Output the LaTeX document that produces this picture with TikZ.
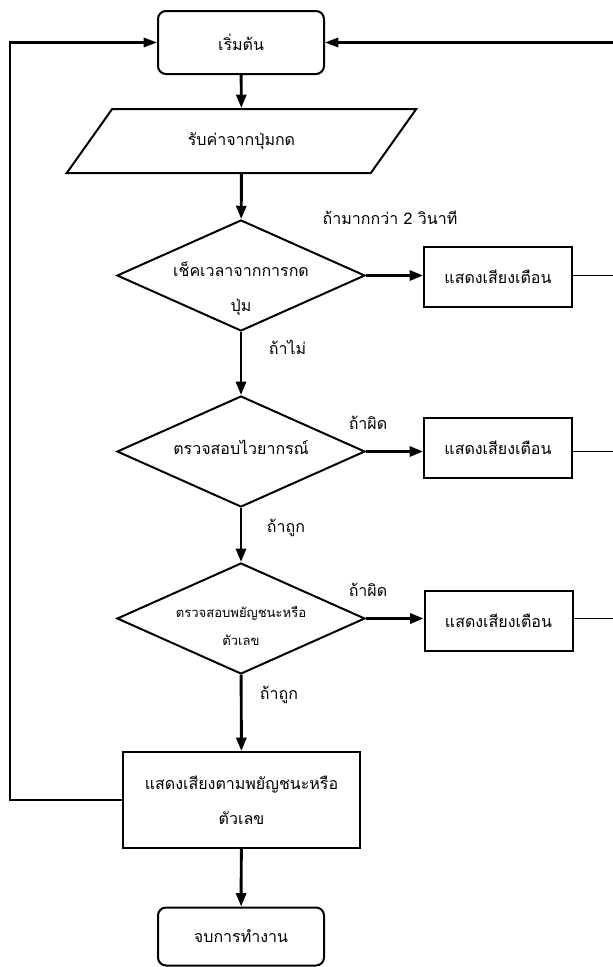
\documentclass[tikz,border=0pt]{standalone}
\usepackage{fontspec}
\newfontfamily\thaifont[Script=Thai]{Loma}
\usetikzlibrary{shapes.geometric,arrows.meta}

\tikzset{
  box/.style={draw, line width=1.5pt, minimum width=111pt, minimum height=45pt, inner sep=0pt, align=center},
  term/.style={box, rounded corners=6pt, minimum width=124.5pt, minimum height=47.25pt},
  inbox/.style={draw, line width=1.5pt, trapezium, trapezium left angle=42, trapezium right angle=138,
    trapezium stretches=true, minimum width=262.5pt, minimum height=48pt, inner sep=0pt},
  decision/.style={draw, line width=1.5pt, diamond, minimum width=186pt, minimum height=83.25pt, inner sep=0pt},
  flow/.style={line width=2.2pt, -{Triangle[length=10pt,width=7.5pt]}},
  goback/.style={line width=1.6pt},
  tie/.style={line width=1.2pt}
}

\begin{document}
\begin{tikzpicture}[x=0.75pt, y=-0.75pt, font={\thaifont\fontsize{12pt}{26pt}\selectfont}]
\useasboundingbox (0,0) rectangle (612,967);

% main column
\node[term] (start) at (241,42.5) {เริ่มต้น};
\node[inbox] (read) at (241.5,141) {รับค่าจากปุ่มกด};
\node[decision] (chk) at (241,275.5) {};
\node[align=center] (chktxt) at (241,289) {เช็คเวลาจากการกด\\ปุ่ม};
\node[decision] (gram) at (241,451.5) {};
\node (gramtxt) at (241,447) {ตรวจสอบไวยากรณ์};
\node[decision] (cons) at (241,618.5) {};
\node[align=center, font={\thaifont\fontsize{9.8pt}{21pt}\selectfont}] (constxt) at (241,626) {ตรวจสอบพยัญชนะหรือ\\ตัวเลข};
\node[box, minimum width=177.75pt, minimum height=72pt] (play) at (241.5,800) {แสดงเสียงตามพยัญชนะหรือ\\ตัวเลข};
\node[term, minimum height=43.5pt] (stop) at (241,936.5) {จบการทำงาน};

% warnings
\node[box] (warn1) at (498,277) {แสดงเสียงเตือน};
\node[box] (warn2) at (498,448) {แสดงเสียงเตือน};
\node[box] (warn3) at (498.5,621) {แสดงเสียงเตือน};

% conditions
\node[anchor=west] (ifmore) at (318,218) {ถ้ามากกว่า 2 วินาที};
\node (ifnot) at (287.5,347) {ถ้าไม่};
\node (ifwrong1) at (368,423) {ถ้าผิด};
\node (ifright1) at (286,528) {ถ้าถูก};
\node (ifwrong2) at (368,590) {ถ้าผิด};
\node (ifright2) at (279,695) {ถ้าถูก};

\draw[flow] (start) -- (read);
\draw[flow] (read) -- (chk);
\draw[flow] (chk) -- (gram);
\draw[flow] (gram) -- (cons);
\draw[flow] (cons) -- (play);
\draw[flow] (play) -- (stop);

\draw[flow] (chk.east) -- (chk.east -| warn1.west);
\draw[flow] (gram.east) -- (gram.east -| warn2.west);
\draw[flow] (cons.east) -- (cons.east -| warn3.west);

% back to start
\coordinate (rt) at (616,42.5);
\coordinate (lt) at (10,42.5);
\draw[tie] (chk.east -| warn1.east) -| (rt);
\draw[tie] (gram.east -| warn2.east) -| (rt);
\draw[tie] (cons.east -| warn3.east) -| (rt);
\draw[goback, -{Triangle[length=10pt,width=7pt]}] (rt) -- (start.east);
\draw[goback, -{Triangle[length=10pt,width=7pt]}] (play.west) -| (lt) -- (start.west);

\end{tikzpicture}
\end{document}
